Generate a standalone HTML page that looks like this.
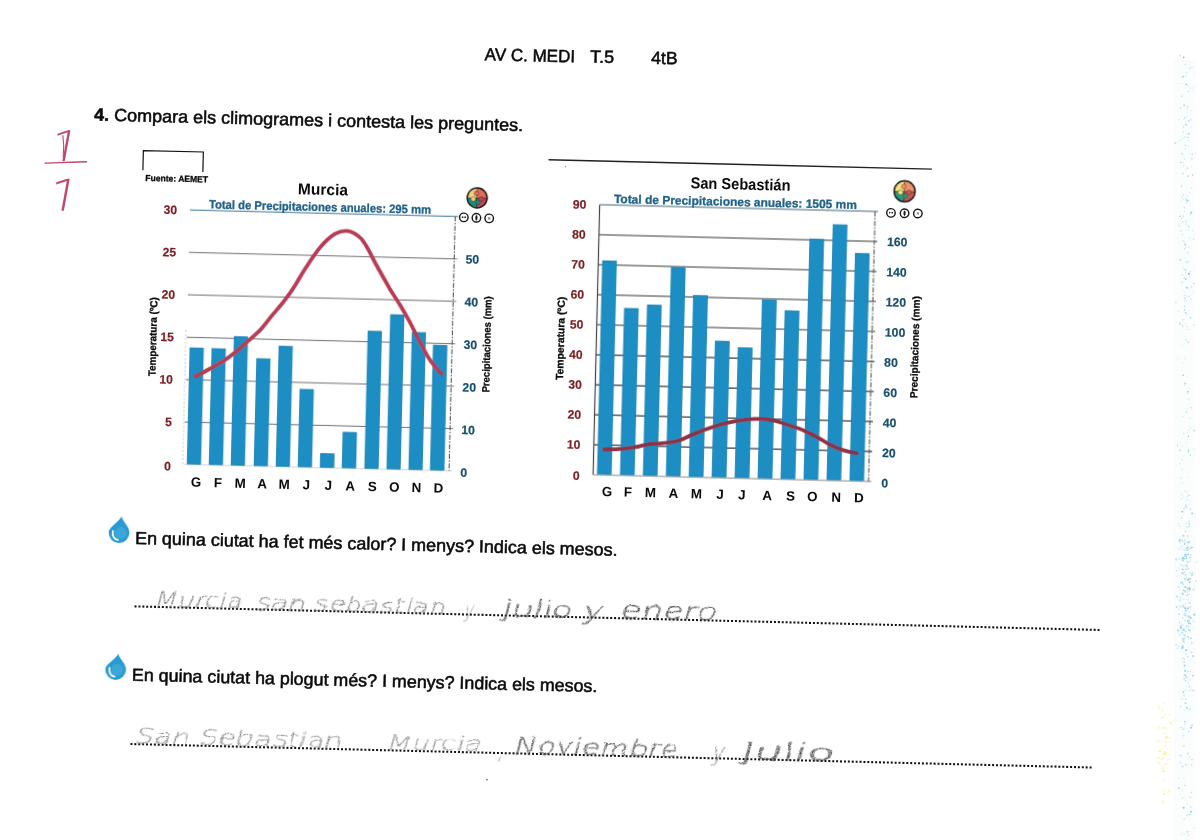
<!DOCTYPE html>
<html lang="ca">
<head>
<meta charset="utf-8">
<title>AV C. MEDI T.5</title>
<style>
html,body{margin:0;padding:0;background:#fff;}
#sheet{position:relative;width:1200px;height:840px;overflow:hidden;background:#fff;}
svg{display:block;}
text{font-family:"Liberation Sans",sans-serif;}
.b{font-weight:bold;}
.tx{fill:#0a0a0a;}
.ax{stroke:#0a0a0a;stroke-width:0.3px;}
.rg{stroke:#0a0a0a;stroke-width:0.55px;stroke-linejoin:round;}
.red{fill:#7d1f22;font-weight:bold;stroke:#7d1f22;stroke-width:0.2px;}
.blu{fill:#17506f;font-weight:bold;stroke:#17506f;stroke-width:0.2px;}
.gr{font-family:"DejaVu Sans Light","DejaVu Sans","Liberation Sans",sans-serif;font-weight:200;fill:#c2456a;}
.hw{font-family:"DejaVu Sans Light","DejaVu Sans","Liberation Sans",sans-serif;font-weight:200;fill:#8a8a8a;}
</style>
</head>
<body>
<div id="sheet">
<svg width="1200" height="840" viewBox="0 0 1200 840">
<defs>
<filter id="soft" x="-5%" y="-5%" width="110%" height="110%"><feGaussianBlur stdDeviation="0.45"/></filter>
<filter id="pencil" x="-5%" y="-60%" width="110%" height="220%">
<feTurbulence type="fractalNoise" baseFrequency="0.07" numOctaves="2" seed="3" result="n"/>
<feDisplacementMap in="SourceGraphic" in2="n" scale="4.5" xChannelSelector="R" yChannelSelector="G" result="d"/>
<feTurbulence type="fractalNoise" baseFrequency="0.85" numOctaves="1" seed="8" result="g"/>
<feColorMatrix in="g" type="matrix" values="0 0 0 0 0  0 0 0 0 0  0 0 0 0 0  0 0 0 2.4 -0.5" result="ga"/>
<feComposite in="d" in2="ga" operator="in"/>
</filter>
</defs>
<g transform="rotate(1.4)">
<text x="485.9" y="48.4" font-size="17.6" class="tx rg" textLength="90.4" lengthAdjust="spacingAndGlyphs">AV C. MEDI</text>
<text x="591.3" y="48.1" font-size="17.6" class="tx rg" textLength="24.0" lengthAdjust="spacingAndGlyphs">T.5</text>
<text x="652.3" y="47.8" font-size="17.6" class="tx rg" textLength="26.5" lengthAdjust="spacingAndGlyphs">4tB</text>
<text x="96.9" y="118.2" font-size="17.6" class="tx rg" textLength="429.1" lengthAdjust="spacingAndGlyphs"><tspan class="b">4.</tspan> Compara els climogrames i contesta les preguntes.</text>
<g class="grade">
<clipPath id="nobase1"><rect x="40" y="120" width="60" height="39.5"/></clipPath>
<clipPath id="nobase2"><rect x="40" y="168" width="60" height="41"/></clipPath>
<g clip-path="url(#nobase1)"><text transform="translate(51,162) skewX(-9) scale(1.05,1)" font-size="46" class="gr">1</text></g>
<g clip-path="url(#nobase2)"><text transform="translate(50.5,212) skewX(-9) scale(1.05,1)" font-size="48" class="gr">1</text></g>
<path d="M49 162 C62 161.4 78 160.2 90.5 159.6" fill="none" stroke="#c2456a" stroke-width="1.3" stroke-linecap="round"/>
<path d="M66.2 134 C67.4 141 67.6 148 67 155" fill="none" stroke="#c2456a" stroke-width="1.1" stroke-linecap="round"/>
</g>
<path d="M147 166.8 V147 H207 V167" fill="none" stroke="#111" stroke-width="1.2"/>
<text x="149.7" y="177.3" font-size="8.8" class="tx b ax" textLength="62.7" lengthAdjust="spacingAndGlyphs">Fuente: AEMET</text>
<g id="murcia" filter="url(#soft)">
<line x1="195" y1="459.8" x2="463.4" y2="459.8" stroke="#d4d4d4" stroke-width="1"/>
<line x1="195" y1="417.4" x2="463.4" y2="417.4" stroke="#707070" stroke-width="1.0"/>
<line x1="195" y1="375.0" x2="463.4" y2="375.0" stroke="#707070" stroke-width="1.0"/>
<line x1="195" y1="332.6" x2="463.4" y2="332.6" stroke="#707070" stroke-width="1.0"/>
<line x1="195" y1="290.1" x2="463.4" y2="290.1" stroke="#707070" stroke-width="1.0"/>
<line x1="195" y1="247.7" x2="463.4" y2="247.7" stroke="#707070" stroke-width="1.0"/>
<line x1="195" y1="205.3" x2="463.4" y2="205.3" stroke="#3b7596" stroke-width="1.1"/>
<line x1="194" y1="325.3" x2="194" y2="459.8" stroke="#bbb" stroke-width="0.8" stroke-dasharray="2 2"/>
<line x1="460.4" y1="205.3" x2="460.4" y2="459.8" stroke="#555" stroke-width="1.1" stroke-dasharray="5 1.5 1.5 1.5"/>
<rect x="198.5" y="343.1" width="13.4" height="116.1" fill="#1d8ec4" stroke="#1480b3" stroke-width="0.8"/>
<rect x="220.5" y="343.3" width="13.4" height="115.9" fill="#1d8ec4" stroke="#1480b3" stroke-width="0.8"/>
<rect x="242.4" y="330.8" width="13.4" height="128.4" fill="#1d8ec4" stroke="#1480b3" stroke-width="0.8"/>
<rect x="265.4" y="352.2" width="13.4" height="107.0" fill="#1d8ec4" stroke="#1480b3" stroke-width="0.8"/>
<rect x="287.4" y="339.2" width="13.4" height="120.0" fill="#1d8ec4" stroke="#1480b3" stroke-width="0.8"/>
<rect x="309.5" y="381.9" width="13.4" height="77.3" fill="#1d8ec4" stroke="#1480b3" stroke-width="0.8"/>
<rect x="331.7" y="445.6" width="13.4" height="13.6" fill="#1d8ec4" stroke="#1480b3" stroke-width="0.8"/>
<rect x="353.6" y="423.8" width="13.4" height="35.4" fill="#1d8ec4" stroke="#1480b3" stroke-width="0.8"/>
<rect x="376.1" y="322.0" width="13.4" height="137.2" fill="#1d8ec4" stroke="#1480b3" stroke-width="0.8"/>
<rect x="398.2" y="305.0" width="13.4" height="154.2" fill="#1d8ec4" stroke="#1480b3" stroke-width="0.8"/>
<rect x="420.2" y="322.2" width="13.4" height="137.0" fill="#1d8ec4" stroke="#1480b3" stroke-width="0.8"/>
<rect x="441.8" y="334.6" width="13.4" height="124.6" fill="#1d8ec4" stroke="#1480b3" stroke-width="0.8"/>
<path d="M204.6 371.6 C207.0 370.3 214.1 366.4 218.9 363.5 C223.8 360.6 229.6 357.2 233.7 354.4 C237.8 351.6 240.3 349.4 243.5 346.7 C246.8 343.9 250.1 340.7 253.3 337.7 C256.6 334.7 260.3 331.4 263.1 328.7 C266.0 325.9 267.6 324.4 270.4 321.0 C273.3 317.6 276.5 312.9 280.1 308.2 C283.8 303.6 288.6 298.0 292.2 292.9 C295.9 287.9 298.7 283.5 301.9 278.2 C305.1 273.0 307.5 267.9 311.5 261.5 C315.5 255.0 321.1 245.6 326.0 239.6 C330.8 233.7 336.1 228.6 340.6 225.7 C345.1 222.9 348.9 222.0 353.0 222.4 C357.2 222.9 362.2 225.7 365.7 228.6 C369.2 231.5 371.4 235.8 374.0 239.9 C376.6 244.0 377.5 246.7 381.3 253.3 C385.1 259.8 392.6 272.4 396.9 279.4 C401.3 286.4 403.9 289.6 407.3 295.1 C410.8 300.6 414.3 306.3 417.8 312.4 C421.2 318.5 424.7 325.5 428.2 331.6 C431.7 337.8 435.0 344.2 438.7 349.4 C442.3 354.5 448.1 360.4 450.0 362.6" fill="none" stroke="#b63c52" stroke-width="3.8" stroke-linecap="round" stroke-linejoin="round"/>
</g>
<text x="182.2" y="466.2" font-size="12.2" class="red" text-anchor="end">0</text>
<text x="182.2" y="421.8" font-size="12.2" class="red" text-anchor="end">5</text>
<text x="182.2" y="379.4" font-size="12.2" class="red" text-anchor="end">10</text>
<text x="182.2" y="336.9" font-size="12.2" class="red" text-anchor="end">15</text>
<text x="182.2" y="294.5" font-size="12.2" class="red" text-anchor="end">20</text>
<text x="182.2" y="252.1" font-size="12.2" class="red" text-anchor="end">25</text>
<text x="182.2" y="209.7" font-size="12.2" class="red" text-anchor="end">30</text>
<text x="471.8" y="465.3" font-size="12.2" class="blu">0</text>
<text x="471.8" y="422.6" font-size="12.2" class="blu">10</text>
<text x="471.8" y="380.0" font-size="12.2" class="blu">20</text>
<text x="471.8" y="337.3" font-size="12.2" class="blu">30</text>
<text x="471.8" y="294.6" font-size="12.2" class="blu">40</text>
<text x="471.8" y="252.0" font-size="12.2" class="blu">50</text>
<text x="302.5" y="186.9" font-size="15.8" class="tx b" textLength="50.0" lengthAdjust="spacingAndGlyphs">Murcia</text>
<text x="214.0" y="203.2" font-size="12.0" class="blu" textLength="222.0" lengthAdjust="spacingAndGlyphs" style="fill:#1f628a;stroke:#1f628a;stroke-width:0.3px">Total de Precipitaciones anuales: 295 mm</text>
<text x="207.8" y="481.8" font-size="13.4" class="tx b" text-anchor="middle">G</text>
<text x="229.8" y="481.8" font-size="13.4" class="tx b" text-anchor="middle">F</text>
<text x="251.9" y="481.8" font-size="13.4" class="tx b" text-anchor="middle">M</text>
<text x="273.9" y="481.8" font-size="13.4" class="tx b" text-anchor="middle">A</text>
<text x="296.0" y="481.8" font-size="13.4" class="tx b" text-anchor="middle">M</text>
<text x="318.0" y="481.8" font-size="13.4" class="tx b" text-anchor="middle">J</text>
<text x="340.0" y="481.8" font-size="13.4" class="tx b" text-anchor="middle">J</text>
<text x="362.1" y="481.8" font-size="13.4" class="tx b" text-anchor="middle">A</text>
<text x="384.1" y="481.8" font-size="13.4" class="tx b" text-anchor="middle">S</text>
<text x="406.2" y="481.8" font-size="13.4" class="tx b" text-anchor="middle">O</text>
<text x="428.2" y="481.8" font-size="13.4" class="tx b" text-anchor="middle">N</text>
<text x="450.2" y="481.8" font-size="13.4" class="tx b" text-anchor="middle">D</text>
<text transform="translate(164.6,372.4) rotate(-90)" font-size="10.4" class="tx b ax" textLength="79.0" lengthAdjust="spacingAndGlyphs">Temperatura (ºC)</text>
<text transform="translate(498.6,380.4) rotate(-90)" font-size="10.4" class="tx b ax" textLength="96.2" lengthAdjust="spacingAndGlyphs">Precipitaciones (mm)</text>
<g transform="translate(481.9,186.2)" filter="url(#soft)">
<circle r="10.7" fill="#161616"/>
<path d="M0 0 L-9.2 0 A9.2 9.2 0 0 1 0 -9.2 Z" fill="#f1d27c"/>
<path d="M0 0 L0 -9.2 A9.2 9.2 0 0 1 9.2 0 Z" fill="#de6c56"/>
<path d="M0 0 L9.2 0 A9.2 9.2 0 0 1 0 9.2 Z" fill="#bd4656"/>
<path d="M0 0 L0 9.2 A9.2 9.2 0 0 1 -9.2 0 Z" fill="#1f8b7c"/>
<path d="M-9.20 0.3 H9.20 M-0.4 -9.20 V9.20" stroke="#2b2420" stroke-width="0.7" fill="none"/>
<circle cx="-3.86" cy="1.10" r="2.30" fill="#f1d27c" stroke="#2b2420" stroke-width="0.4"/>
<circle cx="4.14" cy="0.92" r="2.30" fill="#bd4656" stroke="#2b2420" stroke-width="0.4"/>
<circle cx="0.92" cy="4.42" r="2.30" fill="#1f8b7c" stroke="#2b2420" stroke-width="0.4"/>
<circle cx="-0.92" cy="-4.60" r="2.30" fill="#de6c56" stroke="#2b2420" stroke-width="0.4"/>
</g>
<circle cx="469.0" cy="206.0" r="4.25" fill="#fff" stroke="#161616" stroke-width="1.4"/>
<circle cx="467.8" cy="205.8" r="0.9" fill="#333"/><circle cx="470.3" cy="205.8" r="0.9" fill="#333"/>
<circle cx="481.6" cy="206.1" r="4.25" fill="#fff" stroke="#161616" stroke-width="1.4"/>
<ellipse cx="481.6" cy="206.1" rx="1.1" ry="2.7" fill="#1c1c1c"/>
<circle cx="494.4" cy="206.4" r="4.25" fill="#fff" stroke="#161616" stroke-width="1.4"/>
<rect x="493.29999999999995" y="205.3" width="2.2" height="2.2" fill="#8a8a8a"/>
<line x1="552.3" y1="146.3" x2="935.7" y2="146.3" stroke="#222" stroke-width="1.4"/>
<g id="sansebastian" filter="url(#soft)">
<line x1="604.5" y1="460.1" x2="883.0" y2="460.1" stroke="#8c8c8c" stroke-width="1"/>
<line x1="604.5" y1="430.1" x2="883.0" y2="430.1" stroke="#383838" stroke-width="1.1"/>
<line x1="604.5" y1="400.1" x2="883.0" y2="400.1" stroke="#383838" stroke-width="1.1"/>
<line x1="604.5" y1="370.1" x2="883.0" y2="370.1" stroke="#383838" stroke-width="1.1"/>
<line x1="604.5" y1="340.1" x2="883.0" y2="340.1" stroke="#383838" stroke-width="1.1"/>
<line x1="604.5" y1="310.0" x2="883.0" y2="310.0" stroke="#383838" stroke-width="1.1"/>
<line x1="604.5" y1="280.0" x2="883.0" y2="280.0" stroke="#383838" stroke-width="1.1"/>
<line x1="604.5" y1="250.0" x2="883.0" y2="250.0" stroke="#383838" stroke-width="1.1"/>
<line x1="604.5" y1="220.0" x2="883.0" y2="220.0" stroke="#383838" stroke-width="1.1"/>
<line x1="604.5" y1="190.0" x2="883.0" y2="190.0" stroke="#466878" stroke-width="1.1"/>
<line x1="604.5" y1="190.0" x2="604.5" y2="460.1" stroke="#444" stroke-width="1.2"/>
<line x1="880.0" y1="190.0" x2="880.0" y2="460.1" stroke="#555" stroke-width="1.1" stroke-dasharray="5 1.5 1.5 1.5"/>
<rect x="608.9" y="246.0" width="13.8" height="213.2" fill="#1d8ec4" stroke="#1480b3" stroke-width="0.8"/>
<rect x="631.9" y="293.0" width="13.8" height="166.2" fill="#1d8ec4" stroke="#1480b3" stroke-width="0.8"/>
<rect x="654.8" y="289.0" width="13.8" height="170.2" fill="#1d8ec4" stroke="#1480b3" stroke-width="0.8"/>
<rect x="677.8" y="250.9" width="13.8" height="208.3" fill="#1d8ec4" stroke="#1480b3" stroke-width="0.8"/>
<rect x="700.7" y="278.3" width="13.8" height="180.9" fill="#1d8ec4" stroke="#1480b3" stroke-width="0.8"/>
<rect x="723.6" y="323.6" width="13.8" height="135.6" fill="#1d8ec4" stroke="#1480b3" stroke-width="0.8"/>
<rect x="746.6" y="329.6" width="13.8" height="129.6" fill="#1d8ec4" stroke="#1480b3" stroke-width="0.8"/>
<rect x="769.5" y="281.1" width="13.8" height="178.1" fill="#1d8ec4" stroke="#1480b3" stroke-width="0.8"/>
<rect x="792.5" y="291.4" width="13.8" height="167.8" fill="#1d8ec4" stroke="#1480b3" stroke-width="0.8"/>
<rect x="815.4" y="219.1" width="13.8" height="240.1" fill="#1d8ec4" stroke="#1480b3" stroke-width="0.8"/>
<rect x="838.4" y="204.2" width="13.8" height="255.0" fill="#1d8ec4" stroke="#1480b3" stroke-width="0.8"/>
<rect x="861.3" y="232.3" width="13.8" height="226.9" fill="#1d8ec4" stroke="#1480b3" stroke-width="0.8"/>
<path d="M615.1 434.5 C622 434.6 630 434 636.5 433.1 C641 432.4 644 431.8 648.2 431.1 C652 430 656 428.8 660 428.2 C665 427.6 670 427.4 674.9 426.7 C680 426 685 425.4 689.9 423.7 C695 421.5 700 418.8 704.7 416.8 C710 414.3 716 412 721.6 410 C727 408 733 406 738.7 404.7 C744 403.3 750 402 755.7 401.3 C762 400.6 767 400 772.8 400.1 C777 400.3 782 401 785.8 401.9 C790 403 795 404.5 799.5 406 C805 407.7 810 409 814.6 410.9 C819 412.8 823 414.8 827.5 417 C832 419.4 836 422 840.6 424.2 C845 426.3 849 428 853.6 429.3 C858 430.5 863 431.4 867.6 432.1" fill="none" stroke="#8f3344" stroke-width="3.8" stroke-linecap="round" stroke-linejoin="round"/>
</g>
<text x="591.2" y="465.5" font-size="12.2" class="red" text-anchor="end">0</text>
<text x="591.2" y="434.5" font-size="12.2" class="red" text-anchor="end">10</text>
<text x="591.2" y="404.5" font-size="12.2" class="red" text-anchor="end">20</text>
<text x="591.2" y="374.5" font-size="12.2" class="red" text-anchor="end">30</text>
<text x="591.2" y="344.5" font-size="12.2" class="red" text-anchor="end">40</text>
<text x="591.2" y="314.4" font-size="12.2" class="red" text-anchor="end">50</text>
<text x="591.2" y="284.4" font-size="12.2" class="red" text-anchor="end">60</text>
<text x="591.2" y="254.4" font-size="12.2" class="red" text-anchor="end">70</text>
<text x="591.2" y="224.4" font-size="12.2" class="red" text-anchor="end">80</text>
<text x="591.2" y="194.4" font-size="12.2" class="red" text-anchor="end">90</text>
<text x="892.8" y="465.6" font-size="12.2" class="blu">0</text>
<text x="892.8" y="435.4" font-size="12.2" class="blu">20</text>
<text x="892.8" y="405.2" font-size="12.2" class="blu">40</text>
<text x="892.8" y="375.1" font-size="12.2" class="blu">60</text>
<text x="892.8" y="344.9" font-size="12.2" class="blu">80</text>
<text x="892.8" y="314.7" font-size="12.2" class="blu">100</text>
<text x="892.8" y="284.5" font-size="12.2" class="blu">120</text>
<text x="892.8" y="254.4" font-size="12.2" class="blu">140</text>
<text x="892.8" y="224.2" font-size="12.2" class="blu">160</text>
<text x="694.8" y="171.4" font-size="15.8" class="tx b" textLength="100.0" lengthAdjust="spacingAndGlyphs">San Sebastián</text>
<text x="618.7" y="187.9" font-size="12.0" class="blu" textLength="243.0" lengthAdjust="spacingAndGlyphs" style="fill:#1f628a;stroke:#1f628a;stroke-width:0.3px">Total de Precipitaciones anuales: 1505 mm</text>
<text x="619.0" y="481.2" font-size="13.4" class="tx b" text-anchor="middle">G</text>
<text x="639.9" y="481.2" font-size="13.4" class="tx b" text-anchor="middle">F</text>
<text x="662.4" y="481.2" font-size="13.4" class="tx b" text-anchor="middle">M</text>
<text x="685.3" y="481.2" font-size="13.4" class="tx b" text-anchor="middle">A</text>
<text x="708.4" y="481.2" font-size="13.4" class="tx b" text-anchor="middle">M</text>
<text x="732.0" y="481.2" font-size="13.4" class="tx b" text-anchor="middle">J</text>
<text x="753.6" y="481.2" font-size="13.4" class="tx b" text-anchor="middle">J</text>
<text x="779.0" y="481.2" font-size="13.4" class="tx b" text-anchor="middle">A</text>
<text x="802.4" y="481.2" font-size="13.4" class="tx b" text-anchor="middle">S</text>
<text x="824.2" y="481.2" font-size="13.4" class="tx b" text-anchor="middle">O</text>
<text x="848.0" y="481.2" font-size="13.4" class="tx b" text-anchor="middle">N</text>
<text x="870.9" y="481.2" font-size="13.4" class="tx b" text-anchor="middle">D</text>
<text transform="translate(572.2,366.2) rotate(-90)" font-size="10.4" class="tx b ax" textLength="83.2" lengthAdjust="spacingAndGlyphs">Temperatura (ºC)</text>
<text transform="translate(926.7,375.6) rotate(-90)" font-size="10.4" class="tx b ax" textLength="101.9" lengthAdjust="spacingAndGlyphs">Precipitaciones (mm)</text>
<g transform="translate(909.0,169.2)" filter="url(#soft)">
<circle r="11.2" fill="#161616"/>
<path d="M0 0 L-9.7 0 A9.7 9.7 0 0 1 0 -9.7 Z" fill="#f6e27c"/>
<path d="M0 0 L0 -9.7 A9.7 9.7 0 0 1 9.7 0 Z" fill="#ee936a"/>
<path d="M0 0 L9.7 0 A9.7 9.7 0 0 1 0 9.7 Z" fill="#cc5852"/>
<path d="M0 0 L0 9.7 A9.7 9.7 0 0 1 -9.7 0 Z" fill="#2a9a78"/>
<path d="M-9.70 0.3 H9.70 M-0.4 -9.70 V9.70" stroke="#2b2420" stroke-width="0.7" fill="none"/>
<circle cx="-4.07" cy="1.16" r="2.42" fill="#f6e27c" stroke="#2b2420" stroke-width="0.4"/>
<circle cx="4.37" cy="0.97" r="2.42" fill="#cc5852" stroke="#2b2420" stroke-width="0.4"/>
<circle cx="0.97" cy="4.66" r="2.42" fill="#2a9a78" stroke="#2b2420" stroke-width="0.4"/>
<circle cx="-0.97" cy="-4.85" r="2.42" fill="#ee936a" stroke="#2b2420" stroke-width="0.4"/>
</g>
<circle cx="895.9" cy="191.0" r="4.25" fill="#fff" stroke="#161616" stroke-width="1.4"/>
<circle cx="894.6999999999999" cy="190.8" r="0.9" fill="#333"/><circle cx="897.1999999999999" cy="190.8" r="0.9" fill="#333"/>
<circle cx="909.5" cy="191.1" r="4.25" fill="#fff" stroke="#161616" stroke-width="1.4"/>
<ellipse cx="909.5" cy="191.1" rx="1.1" ry="2.7" fill="#1c1c1c"/>
<circle cx="922.8" cy="191.0" r="4.25" fill="#fff" stroke="#161616" stroke-width="1.4"/>
<rect x="921.6999999999999" y="189.9" width="2.2" height="2.2" fill="#8a8a8a"/>
<g filter="url(#soft)"><path d="M134.2 513.0 C135.0 518.0 142.4 523.1 142.4 529.6 A10.4 10.4 0 1 1 121.6 529.6 C121.6 524.1 132.0 519.0 134.2 513.0 Z" fill="#2c9bd1"/>
<circle cx="133.5" cy="530.1" r="6" fill="#45abdc" opacity="0.7"/>
<path d="M125.8 528.1 C125.0 533.1 127.5 536.4 131.0 536.8" fill="none" stroke="#f2fafd" stroke-width="1.7" stroke-linecap="round"/></g>
<text x="148.2" y="540.5" font-size="17.6" class="tx rg" textLength="482.6" lengthAdjust="spacingAndGlyphs">En quina ciutat ha fet més calor? I menys? Indica els mesos.</text>
<line x1="149.3" y1="602.9" x2="1115.4" y2="602.9" stroke="#111" stroke-width="2.05" stroke-dasharray="2.0 1.9"/>
<g filter="url(#soft)"><path d="M134.2 650.4 C135.0 655.4 142.4 660.0 142.4 666.5 A10.4 10.4 0 1 1 121.6 666.5 C121.6 661.0 132.0 656.4 134.2 650.4 Z" fill="#2c9bd1"/>
<circle cx="133.5" cy="667.0" r="6" fill="#45abdc" opacity="0.7"/>
<path d="M125.8 665.0 C125.0 670.0 127.5 673.3 131.0 673.7" fill="none" stroke="#f2fafd" stroke-width="1.7" stroke-linecap="round"/></g>
<text x="148.4" y="677.3" font-size="17.6" class="tx rg" textLength="465.6" lengthAdjust="spacingAndGlyphs">En quina ciutat ha plogut més? I menys? Indica els mesos.</text>
<line x1="148.6" y1="740.6" x2="1111.5" y2="740.6" stroke="#111" stroke-width="2.05" stroke-dasharray="2.0 1.9"/>
<text transform="translate(168.0,602.5) skewX(-14)" font-size="20.1" class="hw" filter="url(#pencil)" style="fill:#7c7c7c;stroke:#7c7c7c;stroke-width:0.25px" textLength="88.0" lengthAdjust="spacingAndGlyphs">Murcia</text>
<text transform="translate(270.0,603.0) skewX(-14)" font-size="21.3" class="hw" filter="url(#pencil)" style="fill:#787878;stroke:#787878;stroke-width:0.25px" textLength="190.0" lengthAdjust="spacingAndGlyphs">san sebastian</text>
<text transform="translate(478.0,606.0) skewX(-14)" font-size="20.7" class="hw" filter="url(#pencil)" style="fill:#999;stroke:#999;stroke-width:0.25px" textLength="9.0" lengthAdjust="spacingAndGlyphs">y</text>
<text transform="translate(516.0,604.0) skewX(-14)" font-size="22.0" class="hw" filter="url(#pencil)" style="fill:#555;stroke:#555;stroke-width:0.55px" textLength="100.0" lengthAdjust="spacingAndGlyphs">julio y</text>
<text transform="translate(634.0,603.0) skewX(-14)" font-size="24.4" class="hw" filter="url(#pencil)" style="fill:#3c3c3c;stroke:#3c3c3c;stroke-width:0.55px" textLength="96.0" lengthAdjust="spacingAndGlyphs">enero</text>
<text transform="translate(152.0,739.5) skewX(-14)" font-size="21.3" class="hw" filter="url(#pencil)" style="fill:#808080;stroke:#808080;stroke-width:0.25px" textLength="208.0" lengthAdjust="spacingAndGlyphs">San Sebastian</text>
<text transform="translate(404.0,739.0) skewX(-14)" font-size="19.5" class="hw" filter="url(#pencil)" style="fill:#8c8c8c;stroke:#8c8c8c;stroke-width:0.25px" textLength="94.0" lengthAdjust="spacingAndGlyphs">Murcia</text>
<text transform="translate(516.0,745.0) skewX(-14)" font-size="29.3" class="hw" filter="url(#pencil)" style="fill:#444;stroke:#444;stroke-width:0.25px" textLength="5.0" lengthAdjust="spacingAndGlyphs">,</text>
<text transform="translate(531.0,740.5) skewX(-14)" font-size="22.0" class="hw" filter="url(#pencil)" style="fill:#585858;stroke:#585858;stroke-width:0.55px" textLength="164.0" lengthAdjust="spacingAndGlyphs">Noviembre</text>
<text transform="translate(729.0,743.0) skewX(-14)" font-size="24.4" class="hw" filter="url(#pencil)" style="fill:#808080;stroke:#808080;stroke-width:0.25px" textLength="12.0" lengthAdjust="spacingAndGlyphs">y</text>
<text transform="translate(758.0,741.0) skewX(-14)" font-size="23.2" class="hw" filter="url(#pencil)" style="fill:#484848;stroke:#484848;stroke-width:0.55px" textLength="92.0" lengthAdjust="spacingAndGlyphs">Julio</text>
<circle cx="505.9" cy="767.5" r="0.9" fill="#777"/><circle cx="569.6" cy="152.8" r="0.7" fill="#888"/>
</g>
<g id="scan-noise">
<circle cx="1185.1" cy="298.4" r="1.00" fill="#8fd0e0" opacity="0.65"/><circle cx="1184.7" cy="211.3" r="0.80" fill="#8fd0e0" opacity="0.5"/><circle cx="1187.0" cy="112.4" r="0.60" fill="#9ad6e4" opacity="0.35"/><circle cx="1184.1" cy="819.1" r="0.60" fill="#6fbfd4" opacity="0.8"/><circle cx="1183.2" cy="155.1" r="0.60" fill="#8fd0e0" opacity="0.5"/><circle cx="1193.2" cy="90.1" r="0.60" fill="#c4e8f0" opacity="0.8"/><circle cx="1189.5" cy="660.2" r="0.60" fill="#a9dcea" opacity="0.5"/><circle cx="1184.2" cy="105.3" r="0.80" fill="#6fbfd4" opacity="0.8"/>
<circle cx="1186.1" cy="134.2" r="0.80" fill="#c4e8f0" opacity="0.35"/><circle cx="1183.6" cy="807.7" r="1.00" fill="#4aa6bf" opacity="0.65"/><circle cx="1178.5" cy="311.4" r="0.50" fill="#8fd0e0" opacity="0.65"/><circle cx="1186.2" cy="556.4" r="0.85" fill="#58b0c8" opacity="0.7"/><circle cx="1192.7" cy="174.1" r="0.60" fill="#9ad6e4" opacity="0.5"/><circle cx="1188.6" cy="436.2" r="0.80" fill="#4aa6bf" opacity="0.65"/><circle cx="1182.6" cy="729.5" r="0.80" fill="#a9dcea" opacity="0.5"/><circle cx="1188.0" cy="106.2" r="0.60" fill="#8fd0e0" opacity="0.8"/>
<circle cx="1185.5" cy="703.2" r="1.00" fill="#6fbfd4" opacity="0.65"/><circle cx="1188.3" cy="579.6" r="1.15" fill="#58b0c8" opacity="0.85"/><circle cx="1185.0" cy="358.4" r="0.50" fill="#a9dcea" opacity="0.8"/><circle cx="1184.9" cy="169.5" r="0.50" fill="#8fd0e0" opacity="0.35"/><circle cx="1181.8" cy="96.1" r="0.70" fill="#4aa6bf" opacity="0.65"/><circle cx="1190.2" cy="418.4" r="0.80" fill="#c4e8f0" opacity="0.8"/><circle cx="1189.1" cy="426.1" r="0.70" fill="#c4e8f0" opacity="0.5"/><circle cx="1188.3" cy="452.0" r="1.00" fill="#6fbfd4" opacity="0.5"/>
<circle cx="1184.2" cy="590.7" r="0.65" fill="#a4d9e6" opacity="0.7"/><circle cx="1191.8" cy="764.8" r="0.60" fill="#4aa6bf" opacity="0.65"/><circle cx="1186.1" cy="547.9" r="0.75" fill="#58b0c8" opacity="0.55"/><circle cx="1183.2" cy="199.5" r="0.50" fill="#8fd0e0" opacity="0.65"/><circle cx="1183.0" cy="416.8" r="0.70" fill="#6fbfd4" opacity="0.35"/><circle cx="1183.6" cy="215.9" r="0.60" fill="#6fbfd4" opacity="0.5"/><circle cx="1189.2" cy="527.0" r="0.50" fill="#9ad6e4" opacity="0.35"/><circle cx="1183.9" cy="638.6" r="0.85" fill="#8ccfe0" opacity="0.85"/>
<circle cx="1187.0" cy="107.8" r="1.00" fill="#c4e8f0" opacity="0.5"/><circle cx="1186.0" cy="164.4" r="0.50" fill="#8fd0e0" opacity="0.35"/><circle cx="1186.0" cy="699.3" r="0.60" fill="#4aa6bf" opacity="0.65"/><circle cx="1189.5" cy="247.0" r="0.60" fill="#8fd0e0" opacity="0.65"/><circle cx="1190.0" cy="690.4" r="0.60" fill="#4aa6bf" opacity="0.5"/><circle cx="1178.4" cy="457.8" r="0.80" fill="#a9dcea" opacity="0.35"/><circle cx="1184.4" cy="659.3" r="0.65" fill="#a4d9e6" opacity="0.85"/><circle cx="1184.6" cy="665.8" r="1.00" fill="#8fd0e0" opacity="0.5"/>
<circle cx="1189.8" cy="192.7" r="0.50" fill="#8fd0e0" opacity="0.8"/><circle cx="1188.7" cy="523.7" r="0.70" fill="#c4e8f0" opacity="0.8"/><circle cx="1177.5" cy="445.2" r="0.70" fill="#4aa6bf" opacity="0.5"/><circle cx="1184.8" cy="710.3" r="0.50" fill="#c4e8f0" opacity="0.8"/><circle cx="1185.3" cy="381.8" r="0.60" fill="#9ad6e4" opacity="0.65"/><circle cx="1188.0" cy="812.1" r="0.50" fill="#c4e8f0" opacity="0.8"/><circle cx="1182.5" cy="833.3" r="0.50" fill="#9ad6e4" opacity="0.65"/><circle cx="1187.9" cy="391.5" r="0.70" fill="#4aa6bf" opacity="0.65"/>
<circle cx="1193.4" cy="448.8" r="0.50" fill="#8fd0e0" opacity="0.65"/><circle cx="1185.3" cy="579.4" r="1.15" fill="#b5e1ec" opacity="0.85"/><circle cx="1184.3" cy="598.9" r="0.65" fill="#a4d9e6" opacity="0.4"/><circle cx="1181.9" cy="546.3" r="0.75" fill="#8ccfe0" opacity="0.7"/><circle cx="1189.0" cy="310.6" r="0.60" fill="#8fd0e0" opacity="0.5"/><circle cx="1184.5" cy="249.0" r="0.70" fill="#9ad6e4" opacity="0.65"/><circle cx="1180.1" cy="463.8" r="0.70" fill="#6fbfd4" opacity="0.35"/><circle cx="1188.1" cy="833.6" r="0.50" fill="#9ad6e4" opacity="0.5"/>
<circle cx="1180.2" cy="450.4" r="0.80" fill="#9ad6e4" opacity="0.8"/><circle cx="1188.0" cy="814.3" r="0.60" fill="#a9dcea" opacity="0.65"/><circle cx="1193.9" cy="621.6" r="0.65" fill="#8ccfe0" opacity="0.7"/><circle cx="1185.1" cy="383.7" r="0.80" fill="#4aa6bf" opacity="0.65"/><circle cx="1186.0" cy="76.1" r="0.70" fill="#6fbfd4" opacity="0.65"/><circle cx="1186.4" cy="287.0" r="0.50" fill="#6fbfd4" opacity="0.8"/><circle cx="1184.2" cy="106.9" r="0.50" fill="#8fd0e0" opacity="0.65"/><circle cx="1183.4" cy="692.0" r="1.00" fill="#8fd0e0" opacity="0.8"/>
<circle cx="1179.1" cy="225.8" r="1.00" fill="#c4e8f0" opacity="0.65"/><circle cx="1184.7" cy="615.1" r="1.15" fill="#6fbfd4" opacity="0.4"/><circle cx="1186.1" cy="599.4" r="0.65" fill="#b5e1ec" opacity="0.55"/><circle cx="1180.6" cy="107.9" r="0.70" fill="#8fd0e0" opacity="0.8"/><circle cx="1185.7" cy="541.0" r="0.65" fill="#b5e1ec" opacity="0.4"/><circle cx="1186.0" cy="566.1" r="0.85" fill="#8ccfe0" opacity="0.7"/><circle cx="1184.1" cy="269.3" r="1.00" fill="#a9dcea" opacity="0.65"/><circle cx="1183.9" cy="282.9" r="0.50" fill="#c4e8f0" opacity="0.35"/>
<circle cx="1179.4" cy="119.4" r="0.70" fill="#c4e8f0" opacity="0.8"/><circle cx="1186.4" cy="412.1" r="1.00" fill="#a9dcea" opacity="0.65"/><circle cx="1188.5" cy="398.7" r="0.60" fill="#8fd0e0" opacity="0.35"/><circle cx="1195.8" cy="153.1" r="0.70" fill="#a9dcea" opacity="0.65"/><circle cx="1190.9" cy="427.9" r="0.80" fill="#c4e8f0" opacity="0.65"/><circle cx="1186.1" cy="620.3" r="0.65" fill="#a4d9e6" opacity="0.4"/><circle cx="1178.0" cy="299.0" r="0.60" fill="#9ad6e4" opacity="0.35"/><circle cx="1191.9" cy="759.5" r="0.70" fill="#8fd0e0" opacity="0.8"/>
<circle cx="1191.9" cy="643.0" r="0.75" fill="#6fbfd4" opacity="0.7"/><circle cx="1188.0" cy="657.0" r="0.65" fill="#58b0c8" opacity="0.55"/><circle cx="1179.3" cy="614.2" r="0.85" fill="#58b0c8" opacity="0.4"/><circle cx="1188.1" cy="176.3" r="0.70" fill="#6fbfd4" opacity="0.65"/><circle cx="1184.0" cy="629.7" r="1.15" fill="#58b0c8" opacity="0.4"/><circle cx="1183.0" cy="173.5" r="0.60" fill="#4aa6bf" opacity="0.8"/><circle cx="1182.5" cy="234.8" r="0.70" fill="#6fbfd4" opacity="0.5"/><circle cx="1184.7" cy="309.9" r="0.70" fill="#4aa6bf" opacity="0.65"/>
<circle cx="1180.3" cy="140.4" r="0.60" fill="#8fd0e0" opacity="0.65"/><circle cx="1179.9" cy="755.6" r="0.80" fill="#c4e8f0" opacity="0.65"/><circle cx="1183.8" cy="57.4" r="0.80" fill="#4aa6bf" opacity="0.8"/><circle cx="1177.4" cy="238.3" r="0.60" fill="#a9dcea" opacity="0.35"/><circle cx="1184.9" cy="556.6" r="0.75" fill="#6fbfd4" opacity="0.4"/><circle cx="1185.6" cy="555.1" r="0.85" fill="#b5e1ec" opacity="0.85"/><circle cx="1180.5" cy="597.5" r="0.95" fill="#a4d9e6" opacity="0.55"/><circle cx="1185.2" cy="670.8" r="1.00" fill="#6fbfd4" opacity="0.8"/>
<circle cx="1187.7" cy="262.3" r="1.00" fill="#a9dcea" opacity="0.5"/><circle cx="1183.4" cy="558.4" r="0.95" fill="#8ccfe0" opacity="0.7"/><circle cx="1182.6" cy="221.8" r="0.70" fill="#9ad6e4" opacity="0.8"/><circle cx="1189.6" cy="329.1" r="0.50" fill="#6fbfd4" opacity="0.35"/><circle cx="1186.2" cy="224.2" r="1.00" fill="#c4e8f0" opacity="0.5"/><circle cx="1182.5" cy="766.5" r="1.00" fill="#a9dcea" opacity="0.8"/><circle cx="1182.4" cy="83.4" r="0.50" fill="#a9dcea" opacity="0.8"/><circle cx="1183.5" cy="290.7" r="0.50" fill="#a9dcea" opacity="0.65"/>
<circle cx="1187.5" cy="393.1" r="0.80" fill="#8fd0e0" opacity="0.5"/><circle cx="1186.8" cy="196.2" r="0.80" fill="#a9dcea" opacity="0.65"/><circle cx="1194.7" cy="72.4" r="0.70" fill="#a9dcea" opacity="0.35"/><circle cx="1189.6" cy="757.0" r="0.70" fill="#6fbfd4" opacity="0.35"/><circle cx="1193.0" cy="292.6" r="0.50" fill="#8fd0e0" opacity="0.5"/><circle cx="1186.2" cy="690.2" r="0.80" fill="#a9dcea" opacity="0.35"/><circle cx="1186.3" cy="295.0" r="0.60" fill="#c4e8f0" opacity="0.5"/><circle cx="1184.3" cy="237.4" r="0.50" fill="#c4e8f0" opacity="0.65"/>
<circle cx="1187.3" cy="168.2" r="1.00" fill="#8fd0e0" opacity="0.5"/><circle cx="1187.0" cy="116.9" r="0.80" fill="#a9dcea" opacity="0.5"/><circle cx="1188.4" cy="146.1" r="1.00" fill="#9ad6e4" opacity="0.35"/><circle cx="1184.1" cy="662.2" r="0.70" fill="#4aa6bf" opacity="0.65"/><circle cx="1186.1" cy="199.0" r="1.00" fill="#a9dcea" opacity="0.65"/><circle cx="1188.4" cy="91.7" r="0.60" fill="#4aa6bf" opacity="0.5"/><circle cx="1186.4" cy="558.4" r="0.75" fill="#58b0c8" opacity="0.7"/><circle cx="1186.1" cy="72.2" r="0.50" fill="#8fd0e0" opacity="0.5"/>
<circle cx="1183.4" cy="194.9" r="1.00" fill="#6fbfd4" opacity="0.35"/><circle cx="1185.8" cy="124.4" r="1.00" fill="#6fbfd4" opacity="0.5"/><circle cx="1181.9" cy="693.4" r="0.50" fill="#a9dcea" opacity="0.35"/><circle cx="1190.2" cy="674.6" r="0.50" fill="#c4e8f0" opacity="0.35"/><circle cx="1183.6" cy="163.3" r="0.70" fill="#c4e8f0" opacity="0.65"/><circle cx="1182.5" cy="572.9" r="1.15" fill="#a4d9e6" opacity="0.85"/><circle cx="1188.2" cy="835.3" r="0.60" fill="#8fd0e0" opacity="0.8"/><circle cx="1192.4" cy="759.5" r="0.50" fill="#c4e8f0" opacity="0.65"/>
<circle cx="1191.3" cy="407.8" r="0.80" fill="#8fd0e0" opacity="0.65"/><circle cx="1186.5" cy="628.3" r="0.75" fill="#b5e1ec" opacity="0.55"/><circle cx="1178.4" cy="778.5" r="0.60" fill="#6fbfd4" opacity="0.5"/><circle cx="1186.5" cy="708.2" r="0.80" fill="#6fbfd4" opacity="0.35"/><circle cx="1189.6" cy="589.2" r="1.15" fill="#6fbfd4" opacity="0.85"/><circle cx="1181.4" cy="186.0" r="0.80" fill="#4aa6bf" opacity="0.5"/><circle cx="1186.1" cy="346.1" r="0.60" fill="#8fd0e0" opacity="0.35"/><circle cx="1192.7" cy="573.0" r="0.95" fill="#b5e1ec" opacity="0.7"/>
<circle cx="1182.9" cy="557.9" r="1.15" fill="#58b0c8" opacity="0.55"/><circle cx="1188.6" cy="430.6" r="1.00" fill="#c4e8f0" opacity="0.5"/><circle cx="1189.6" cy="686.8" r="0.70" fill="#8fd0e0" opacity="0.8"/><circle cx="1187.6" cy="72.4" r="0.70" fill="#9ad6e4" opacity="0.35"/><circle cx="1178.6" cy="83.3" r="0.60" fill="#8fd0e0" opacity="0.35"/><circle cx="1193.2" cy="690.4" r="0.80" fill="#6fbfd4" opacity="0.5"/><circle cx="1188.9" cy="587.5" r="0.85" fill="#6fbfd4" opacity="0.7"/><circle cx="1181.0" cy="755.4" r="0.80" fill="#a9dcea" opacity="0.65"/>
<circle cx="1182.3" cy="206.2" r="0.50" fill="#a9dcea" opacity="0.5"/><circle cx="1185.9" cy="262.0" r="0.80" fill="#a9dcea" opacity="0.65"/><circle cx="1183.4" cy="131.8" r="0.80" fill="#4aa6bf" opacity="0.35"/><circle cx="1183.0" cy="241.1" r="0.80" fill="#9ad6e4" opacity="0.65"/><circle cx="1185.9" cy="650.2" r="1.15" fill="#a4d9e6" opacity="0.7"/><circle cx="1184.7" cy="550.1" r="0.85" fill="#8ccfe0" opacity="0.4"/><circle cx="1182.9" cy="216.9" r="0.70" fill="#8fd0e0" opacity="0.5"/><circle cx="1182.9" cy="76.4" r="1.00" fill="#6fbfd4" opacity="0.65"/>
<circle cx="1186.9" cy="124.9" r="1.00" fill="#a9dcea" opacity="0.5"/><circle cx="1191.5" cy="166.6" r="0.60" fill="#9ad6e4" opacity="0.5"/><circle cx="1189.8" cy="399.8" r="0.70" fill="#c4e8f0" opacity="0.65"/><circle cx="1190.9" cy="811.8" r="1.00" fill="#6fbfd4" opacity="0.8"/><circle cx="1187.5" cy="433.3" r="0.50" fill="#c4e8f0" opacity="0.5"/><circle cx="1186.0" cy="229.7" r="0.50" fill="#8fd0e0" opacity="0.5"/><circle cx="1182.1" cy="153.5" r="0.80" fill="#4aa6bf" opacity="0.5"/><circle cx="1182.9" cy="445.8" r="0.50" fill="#9ad6e4" opacity="0.8"/>
<circle cx="1185.9" cy="610.9" r="0.95" fill="#6fbfd4" opacity="0.55"/><circle cx="1181.3" cy="835.3" r="0.50" fill="#8fd0e0" opacity="0.65"/><circle cx="1191.6" cy="792.4" r="0.80" fill="#9ad6e4" opacity="0.65"/><circle cx="1187.9" cy="753.6" r="1.00" fill="#8fd0e0" opacity="0.5"/><circle cx="1185.6" cy="247.8" r="0.70" fill="#a9dcea" opacity="0.8"/><circle cx="1175.9" cy="302.2" r="1.00" fill="#c4e8f0" opacity="0.8"/><circle cx="1185.1" cy="724.3" r="0.70" fill="#a9dcea" opacity="0.8"/><circle cx="1180.6" cy="536.9" r="0.60" fill="#a9dcea" opacity="0.35"/>
<circle cx="1189.5" cy="61.5" r="0.60" fill="#9ad6e4" opacity="0.35"/><circle cx="1184.3" cy="64.6" r="0.50" fill="#9ad6e4" opacity="0.35"/><circle cx="1180.9" cy="628.0" r="1.15" fill="#8ccfe0" opacity="0.85"/><circle cx="1191.9" cy="125.5" r="0.50" fill="#8fd0e0" opacity="0.35"/><circle cx="1182.8" cy="641.5" r="0.75" fill="#8ccfe0" opacity="0.55"/><circle cx="1182.5" cy="275.0" r="0.70" fill="#8fd0e0" opacity="0.65"/><circle cx="1185.1" cy="244.8" r="0.70" fill="#4aa6bf" opacity="0.8"/><circle cx="1182.1" cy="469.2" r="0.50" fill="#4aa6bf" opacity="0.65"/>
<circle cx="1188.1" cy="176.0" r="0.50" fill="#8fd0e0" opacity="0.65"/><circle cx="1192.8" cy="675.8" r="0.80" fill="#4aa6bf" opacity="0.65"/><circle cx="1190.0" cy="501.2" r="0.60" fill="#c4e8f0" opacity="0.5"/><circle cx="1176.9" cy="596.3" r="0.85" fill="#8ccfe0" opacity="0.85"/><circle cx="1183.5" cy="634.7" r="0.95" fill="#b5e1ec" opacity="0.55"/><circle cx="1188.6" cy="226.4" r="1.00" fill="#4aa6bf" opacity="0.35"/><circle cx="1190.5" cy="318.1" r="1.00" fill="#9ad6e4" opacity="0.65"/><circle cx="1192.7" cy="175.3" r="0.70" fill="#4aa6bf" opacity="0.5"/>
<circle cx="1188.3" cy="140.6" r="0.60" fill="#6fbfd4" opacity="0.65"/><circle cx="1184.0" cy="642.3" r="0.75" fill="#6fbfd4" opacity="0.7"/><circle cx="1184.5" cy="834.0" r="0.60" fill="#a9dcea" opacity="0.65"/><circle cx="1183.7" cy="625.2" r="0.65" fill="#a4d9e6" opacity="0.55"/><circle cx="1189.5" cy="388.3" r="0.50" fill="#a9dcea" opacity="0.65"/><circle cx="1185.6" cy="631.3" r="1.15" fill="#b5e1ec" opacity="0.85"/><circle cx="1183.4" cy="560.7" r="0.75" fill="#8ccfe0" opacity="0.85"/><circle cx="1184.5" cy="385.2" r="0.50" fill="#c4e8f0" opacity="0.5"/>
<circle cx="1180.4" cy="542.4" r="0.95" fill="#b5e1ec" opacity="0.55"/><circle cx="1187.6" cy="753.8" r="0.50" fill="#c4e8f0" opacity="0.8"/><circle cx="1186.0" cy="764.7" r="0.60" fill="#4aa6bf" opacity="0.65"/><circle cx="1188.9" cy="120.7" r="1.00" fill="#a9dcea" opacity="0.8"/><circle cx="1185.4" cy="323.7" r="0.50" fill="#8fd0e0" opacity="0.8"/><circle cx="1190.2" cy="578.6" r="0.85" fill="#58b0c8" opacity="0.55"/><circle cx="1187.4" cy="408.8" r="0.60" fill="#c4e8f0" opacity="0.5"/><circle cx="1185.3" cy="690.1" r="0.80" fill="#c4e8f0" opacity="0.65"/>
<circle cx="1178.8" cy="646.4" r="0.75" fill="#a4d9e6" opacity="0.85"/><circle cx="1187.4" cy="588.6" r="0.95" fill="#8ccfe0" opacity="0.7"/><circle cx="1184.7" cy="295.6" r="0.70" fill="#a9dcea" opacity="0.65"/><circle cx="1184.8" cy="721.8" r="1.00" fill="#6fbfd4" opacity="0.5"/><circle cx="1184.5" cy="207.4" r="1.00" fill="#a9dcea" opacity="0.5"/><circle cx="1191.5" cy="188.2" r="0.60" fill="#a9dcea" opacity="0.8"/><circle cx="1190.5" cy="671.8" r="0.50" fill="#9ad6e4" opacity="0.65"/><circle cx="1182.4" cy="482.9" r="0.60" fill="#a9dcea" opacity="0.8"/>
<circle cx="1183.7" cy="433.5" r="0.80" fill="#a9dcea" opacity="0.8"/><circle cx="1186.5" cy="171.4" r="0.50" fill="#a9dcea" opacity="0.65"/><circle cx="1176.7" cy="570.9" r="0.65" fill="#6fbfd4" opacity="0.7"/><circle cx="1191.2" cy="547.6" r="0.85" fill="#8ccfe0" opacity="0.85"/><circle cx="1180.9" cy="727.6" r="0.60" fill="#6fbfd4" opacity="0.8"/><circle cx="1186.8" cy="312.9" r="0.50" fill="#6fbfd4" opacity="0.65"/><circle cx="1179.9" cy="323.4" r="1.00" fill="#6fbfd4" opacity="0.5"/><circle cx="1196.5" cy="562.3" r="0.85" fill="#a4d9e6" opacity="0.55"/>
<circle cx="1184.5" cy="665.8" r="1.00" fill="#4aa6bf" opacity="0.35"/><circle cx="1177.4" cy="358.0" r="0.50" fill="#a9dcea" opacity="0.8"/><circle cx="1184.8" cy="540.2" r="0.95" fill="#6fbfd4" opacity="0.4"/><circle cx="1183.4" cy="569.6" r="0.65" fill="#8ccfe0" opacity="0.7"/><circle cx="1183.6" cy="735.8" r="0.70" fill="#a9dcea" opacity="0.8"/><circle cx="1192.2" cy="67.3" r="1.00" fill="#9ad6e4" opacity="0.35"/><circle cx="1183.6" cy="362.9" r="0.60" fill="#c4e8f0" opacity="0.8"/><circle cx="1180.9" cy="477.9" r="0.80" fill="#a9dcea" opacity="0.5"/>
<circle cx="1180.0" cy="540.3" r="0.65" fill="#6fbfd4" opacity="0.4"/><circle cx="1175.2" cy="142.9" r="1.00" fill="#a9dcea" opacity="0.8"/><circle cx="1187.0" cy="625.4" r="0.75" fill="#8ccfe0" opacity="0.7"/><circle cx="1179.4" cy="541.6" r="0.85" fill="#8ccfe0" opacity="0.4"/><circle cx="1183.5" cy="559.3" r="0.75" fill="#58b0c8" opacity="0.4"/><circle cx="1192.3" cy="620.8" r="0.65" fill="#a4d9e6" opacity="0.55"/><circle cx="1188.3" cy="542.5" r="1.15" fill="#a4d9e6" opacity="0.7"/><circle cx="1176.1" cy="559.5" r="1.15" fill="#8ccfe0" opacity="0.55"/>
<circle cx="1189.3" cy="684.4" r="0.80" fill="#a9dcea" opacity="0.35"/><circle cx="1186.0" cy="270.2" r="1.00" fill="#a9dcea" opacity="0.65"/><circle cx="1189.9" cy="616.3" r="0.75" fill="#a4d9e6" opacity="0.4"/><circle cx="1187.5" cy="671.7" r="0.50" fill="#4aa6bf" opacity="0.65"/><circle cx="1193.0" cy="656.2" r="1.15" fill="#a4d9e6" opacity="0.85"/><circle cx="1180.7" cy="443.9" r="0.60" fill="#a9dcea" opacity="0.35"/><circle cx="1181.9" cy="329.5" r="0.60" fill="#a9dcea" opacity="0.35"/><circle cx="1188.9" cy="731.4" r="0.80" fill="#8fd0e0" opacity="0.5"/>
<circle cx="1184.9" cy="292.0" r="0.50" fill="#8fd0e0" opacity="0.5"/><circle cx="1191.6" cy="652.3" r="0.85" fill="#8ccfe0" opacity="0.7"/><circle cx="1187.2" cy="200.4" r="1.00" fill="#6fbfd4" opacity="0.8"/><circle cx="1186.7" cy="550.6" r="0.65" fill="#a4d9e6" opacity="0.7"/><circle cx="1189.1" cy="831.4" r="0.70" fill="#8fd0e0" opacity="0.35"/><circle cx="1186.8" cy="708.1" r="1.00" fill="#9ad6e4" opacity="0.8"/><circle cx="1186.3" cy="84.5" r="0.70" fill="#4aa6bf" opacity="0.8"/><circle cx="1176.1" cy="644.8" r="0.85" fill="#58b0c8" opacity="0.4"/>
<circle cx="1186.8" cy="677.5" r="1.00" fill="#6fbfd4" opacity="0.5"/><circle cx="1184.5" cy="778.9" r="0.50" fill="#9ad6e4" opacity="0.35"/><circle cx="1184.4" cy="696.8" r="0.60" fill="#9ad6e4" opacity="0.35"/><circle cx="1184.3" cy="183.8" r="0.60" fill="#c4e8f0" opacity="0.5"/><circle cx="1187.9" cy="252.6" r="0.70" fill="#6fbfd4" opacity="0.5"/><circle cx="1188.8" cy="248.0" r="0.80" fill="#c4e8f0" opacity="0.35"/><circle cx="1181.0" cy="162.4" r="0.60" fill="#4aa6bf" opacity="0.8"/><circle cx="1180.6" cy="706.6" r="0.60" fill="#6fbfd4" opacity="0.8"/>
<circle cx="1183.8" cy="778.2" r="0.50" fill="#9ad6e4" opacity="0.65"/><circle cx="1194.7" cy="268.5" r="0.50" fill="#c4e8f0" opacity="0.5"/><circle cx="1188.8" cy="260.9" r="0.60" fill="#9ad6e4" opacity="0.5"/><circle cx="1181.8" cy="197.0" r="0.50" fill="#4aa6bf" opacity="0.8"/><circle cx="1183.1" cy="647.5" r="0.75" fill="#b5e1ec" opacity="0.7"/><circle cx="1180.8" cy="201.4" r="1.00" fill="#c4e8f0" opacity="0.35"/><circle cx="1180.0" cy="794.6" r="0.60" fill="#9ad6e4" opacity="0.65"/><circle cx="1189.8" cy="238.2" r="0.70" fill="#8fd0e0" opacity="0.5"/>
<circle cx="1180.0" cy="600.4" r="1.15" fill="#8ccfe0" opacity="0.4"/><circle cx="1193.7" cy="324.7" r="0.70" fill="#9ad6e4" opacity="0.8"/><circle cx="1185.5" cy="272.7" r="0.50" fill="#4aa6bf" opacity="0.5"/><circle cx="1181.5" cy="218.5" r="0.50" fill="#6fbfd4" opacity="0.65"/><circle cx="1182.9" cy="629.5" r="0.75" fill="#58b0c8" opacity="0.4"/><circle cx="1182.4" cy="319.9" r="0.60" fill="#8fd0e0" opacity="0.65"/><circle cx="1182.6" cy="138.2" r="0.50" fill="#8fd0e0" opacity="0.8"/><circle cx="1186.0" cy="221.5" r="1.00" fill="#c4e8f0" opacity="0.8"/>
<circle cx="1178.9" cy="788.2" r="1.00" fill="#8fd0e0" opacity="0.8"/><circle cx="1189.9" cy="814.5" r="0.70" fill="#6fbfd4" opacity="0.8"/><circle cx="1175.1" cy="231.8" r="0.70" fill="#c4e8f0" opacity="0.35"/><circle cx="1190.7" cy="299.3" r="0.70" fill="#a9dcea" opacity="0.8"/><circle cx="1187.4" cy="569.2" r="0.75" fill="#b5e1ec" opacity="0.4"/><circle cx="1189.4" cy="219.9" r="0.80" fill="#c4e8f0" opacity="0.35"/><circle cx="1183.9" cy="745.9" r="1.00" fill="#6fbfd4" opacity="0.35"/><circle cx="1183.4" cy="535.8" r="1.00" fill="#8fd0e0" opacity="0.8"/>
<circle cx="1188.9" cy="228.8" r="0.60" fill="#8fd0e0" opacity="0.35"/><circle cx="1188.5" cy="450.0" r="0.80" fill="#4aa6bf" opacity="0.5"/><circle cx="1185.4" cy="500.7" r="0.70" fill="#c4e8f0" opacity="0.5"/><circle cx="1179.1" cy="559.0" r="0.95" fill="#b5e1ec" opacity="0.7"/><circle cx="1186.9" cy="287.8" r="0.80" fill="#4aa6bf" opacity="0.8"/><circle cx="1191.0" cy="727.8" r="1.00" fill="#6fbfd4" opacity="0.8"/><circle cx="1191.3" cy="212.5" r="1.00" fill="#6fbfd4" opacity="0.8"/><circle cx="1186.7" cy="564.9" r="0.85" fill="#8ccfe0" opacity="0.55"/>
<circle cx="1184.9" cy="785.3" r="0.60" fill="#4aa6bf" opacity="0.65"/><circle cx="1184.0" cy="695.3" r="0.80" fill="#6fbfd4" opacity="0.5"/><circle cx="1181.5" cy="369.6" r="0.50" fill="#c4e8f0" opacity="0.8"/><circle cx="1188.8" cy="273.7" r="1.00" fill="#4aa6bf" opacity="0.8"/><circle cx="1190.1" cy="557.3" r="0.85" fill="#6fbfd4" opacity="0.7"/><circle cx="1185.7" cy="680.8" r="0.80" fill="#4aa6bf" opacity="0.5"/><circle cx="1186.5" cy="203.0" r="0.50" fill="#6fbfd4" opacity="0.8"/><circle cx="1185.7" cy="279.3" r="0.70" fill="#4aa6bf" opacity="0.8"/>
<circle cx="1182.8" cy="586.8" r="0.65" fill="#8ccfe0" opacity="0.55"/><circle cx="1183.8" cy="119.0" r="0.80" fill="#9ad6e4" opacity="0.5"/><circle cx="1187.0" cy="313.9" r="0.70" fill="#6fbfd4" opacity="0.35"/><circle cx="1183.6" cy="699.2" r="0.50" fill="#9ad6e4" opacity="0.65"/><circle cx="1189.3" cy="590.5" r="0.75" fill="#b5e1ec" opacity="0.7"/><circle cx="1183.2" cy="691.3" r="0.60" fill="#c4e8f0" opacity="0.5"/><circle cx="1190.3" cy="88.0" r="0.50" fill="#9ad6e4" opacity="0.8"/><circle cx="1189.4" cy="607.1" r="0.95" fill="#8ccfe0" opacity="0.4"/>
<circle cx="1182.9" cy="573.1" r="1.15" fill="#b5e1ec" opacity="0.55"/><circle cx="1184.9" cy="137.0" r="1.00" fill="#8fd0e0" opacity="0.35"/><circle cx="1178.3" cy="119.9" r="1.00" fill="#c4e8f0" opacity="0.35"/><circle cx="1184.9" cy="558.8" r="0.75" fill="#6fbfd4" opacity="0.7"/><circle cx="1180.3" cy="259.8" r="1.00" fill="#8fd0e0" opacity="0.65"/><circle cx="1180.0" cy="55.6" r="0.80" fill="#4aa6bf" opacity="0.35"/><circle cx="1193.5" cy="239.0" r="0.70" fill="#8fd0e0" opacity="0.8"/><circle cx="1182.5" cy="797.9" r="0.80" fill="#9ad6e4" opacity="0.5"/>
<circle cx="1188.2" cy="608.0" r="0.95" fill="#6fbfd4" opacity="0.4"/><circle cx="1187.3" cy="815.3" r="1.00" fill="#6fbfd4" opacity="0.35"/><circle cx="1190.6" cy="807.1" r="0.80" fill="#a9dcea" opacity="0.8"/><circle cx="1183.2" cy="266.3" r="0.50" fill="#6fbfd4" opacity="0.35"/><circle cx="1185.5" cy="312.5" r="0.70" fill="#4aa6bf" opacity="0.5"/><circle cx="1184.2" cy="674.4" r="0.70" fill="#6fbfd4" opacity="0.5"/><circle cx="1188.7" cy="616.5" r="1.15" fill="#6fbfd4" opacity="0.55"/><circle cx="1196.0" cy="580.9" r="0.95" fill="#8ccfe0" opacity="0.55"/>
<circle cx="1188.2" cy="288.0" r="0.60" fill="#6fbfd4" opacity="0.5"/><circle cx="1187.3" cy="568.9" r="0.85" fill="#b5e1ec" opacity="0.7"/><circle cx="1187.7" cy="110.2" r="0.70" fill="#c4e8f0" opacity="0.8"/><circle cx="1182.1" cy="658.4" r="0.75" fill="#a4d9e6" opacity="0.55"/><circle cx="1182.5" cy="569.6" r="0.75" fill="#58b0c8" opacity="0.7"/><circle cx="1180.5" cy="763.0" r="0.70" fill="#8fd0e0" opacity="0.65"/><circle cx="1187.5" cy="608.6" r="0.85" fill="#6fbfd4" opacity="0.85"/><circle cx="1188.4" cy="629.2" r="0.75" fill="#b5e1ec" opacity="0.55"/>
<circle cx="1184.4" cy="243.3" r="0.50" fill="#8fd0e0" opacity="0.65"/><circle cx="1182.4" cy="660.1" r="0.50" fill="#c4e8f0" opacity="0.8"/><circle cx="1180.0" cy="216.2" r="0.80" fill="#6fbfd4" opacity="0.8"/><circle cx="1194.3" cy="430.6" r="1.00" fill="#6fbfd4" opacity="0.5"/><circle cx="1189.7" cy="548.7" r="0.95" fill="#8ccfe0" opacity="0.55"/><circle cx="1187.4" cy="547.9" r="0.95" fill="#58b0c8" opacity="0.55"/><circle cx="1190.0" cy="603.1" r="0.85" fill="#6fbfd4" opacity="0.55"/><circle cx="1190.5" cy="508.9" r="0.50" fill="#4aa6bf" opacity="0.8"/>
<circle cx="1182.2" cy="646.9" r="0.95" fill="#6fbfd4" opacity="0.4"/><circle cx="1183.3" cy="590.7" r="0.65" fill="#8ccfe0" opacity="0.7"/><circle cx="1182.1" cy="282.5" r="0.60" fill="#6fbfd4" opacity="0.8"/><circle cx="1196.0" cy="174.1" r="0.50" fill="#c4e8f0" opacity="0.8"/><circle cx="1183.5" cy="126.8" r="1.00" fill="#6fbfd4" opacity="0.35"/><circle cx="1187.1" cy="326.7" r="0.70" fill="#9ad6e4" opacity="0.65"/><circle cx="1190.2" cy="561.2" r="0.75" fill="#a4d9e6" opacity="0.7"/><circle cx="1186.7" cy="300.7" r="0.70" fill="#6fbfd4" opacity="0.5"/>
<circle cx="1180.6" cy="231.0" r="0.80" fill="#8fd0e0" opacity="0.5"/><circle cx="1183.6" cy="165.7" r="1.00" fill="#9ad6e4" opacity="0.35"/><circle cx="1189.9" cy="153.2" r="0.80" fill="#8fd0e0" opacity="0.35"/><circle cx="1190.6" cy="214.2" r="0.50" fill="#4aa6bf" opacity="0.8"/><circle cx="1192.2" cy="154.2" r="0.70" fill="#8fd0e0" opacity="0.8"/><circle cx="1188.3" cy="342.3" r="1.00" fill="#9ad6e4" opacity="0.65"/><circle cx="1181.3" cy="539.3" r="0.50" fill="#8fd0e0" opacity="0.65"/><circle cx="1189.3" cy="526.1" r="1.00" fill="#c4e8f0" opacity="0.65"/>
<circle cx="1186.7" cy="278.9" r="0.60" fill="#a9dcea" opacity="0.8"/><circle cx="1185.3" cy="591.7" r="1.15" fill="#b5e1ec" opacity="0.85"/><circle cx="1183.0" cy="327.3" r="0.60" fill="#a9dcea" opacity="0.5"/><circle cx="1187.2" cy="477.4" r="0.70" fill="#9ad6e4" opacity="0.35"/><circle cx="1179.7" cy="605.9" r="1.15" fill="#b5e1ec" opacity="0.4"/><circle cx="1184.3" cy="678.7" r="1.00" fill="#4aa6bf" opacity="0.35"/><circle cx="1179.8" cy="540.0" r="1.15" fill="#6fbfd4" opacity="0.55"/><circle cx="1187.6" cy="85.9" r="0.70" fill="#8fd0e0" opacity="0.35"/>
<circle cx="1187.6" cy="600.1" r="0.65" fill="#b5e1ec" opacity="0.55"/><circle cx="1187.6" cy="734.9" r="0.70" fill="#9ad6e4" opacity="0.35"/><circle cx="1181.2" cy="698.9" r="0.70" fill="#9ad6e4" opacity="0.8"/><circle cx="1190.9" cy="119.5" r="1.00" fill="#8fd0e0" opacity="0.35"/><circle cx="1178.4" cy="243.2" r="1.00" fill="#c4e8f0" opacity="0.35"/><circle cx="1188.6" cy="671.4" r="0.50" fill="#6fbfd4" opacity="0.5"/><circle cx="1188.1" cy="554.5" r="0.75" fill="#58b0c8" opacity="0.85"/><circle cx="1189.4" cy="620.3" r="0.85" fill="#b5e1ec" opacity="0.85"/>
<circle cx="1184.6" cy="306.4" r="0.80" fill="#4aa6bf" opacity="0.35"/><circle cx="1184.9" cy="543.4" r="0.85" fill="#a4d9e6" opacity="0.55"/><circle cx="1187.0" cy="831.8" r="1.00" fill="#8fd0e0" opacity="0.5"/><circle cx="1183.8" cy="657.9" r="0.75" fill="#6fbfd4" opacity="0.4"/><circle cx="1188.6" cy="630.1" r="0.85" fill="#b5e1ec" opacity="0.85"/><circle cx="1177.1" cy="576.1" r="0.75" fill="#a4d9e6" opacity="0.55"/><circle cx="1185.8" cy="148.2" r="0.80" fill="#c4e8f0" opacity="0.8"/><circle cx="1180.1" cy="241.2" r="0.50" fill="#a9dcea" opacity="0.35"/>
<circle cx="1176.8" cy="322.1" r="0.80" fill="#9ad6e4" opacity="0.35"/><circle cx="1190.1" cy="709.2" r="1.00" fill="#8fd0e0" opacity="0.5"/><circle cx="1194.0" cy="539.9" r="0.50" fill="#a9dcea" opacity="0.35"/><circle cx="1179.3" cy="358.9" r="0.50" fill="#a9dcea" opacity="0.5"/><circle cx="1180.9" cy="625.6" r="0.65" fill="#8ccfe0" opacity="0.7"/><circle cx="1185.5" cy="613.8" r="0.85" fill="#8ccfe0" opacity="0.55"/><circle cx="1185.4" cy="675.4" r="1.00" fill="#6fbfd4" opacity="0.8"/><circle cx="1193.9" cy="828.3" r="0.50" fill="#6fbfd4" opacity="0.65"/>
<circle cx="1182.9" cy="617.9" r="0.75" fill="#6fbfd4" opacity="0.55"/><circle cx="1182.5" cy="325.6" r="1.00" fill="#a9dcea" opacity="0.65"/><circle cx="1191.3" cy="689.1" r="0.50" fill="#9ad6e4" opacity="0.65"/><circle cx="1182.3" cy="560.0" r="1.15" fill="#a4d9e6" opacity="0.55"/><circle cx="1184.6" cy="241.8" r="0.50" fill="#9ad6e4" opacity="0.65"/><circle cx="1188.0" cy="137.5" r="0.70" fill="#4aa6bf" opacity="0.65"/><circle cx="1193.0" cy="628.6" r="0.75" fill="#b5e1ec" opacity="0.4"/><circle cx="1187.8" cy="759.0" r="0.50" fill="#8fd0e0" opacity="0.35"/>
<circle cx="1193.2" cy="87.9" r="0.80" fill="#c4e8f0" opacity="0.5"/><circle cx="1185.2" cy="64.5" r="0.70" fill="#a9dcea" opacity="0.65"/><circle cx="1183.0" cy="645.8" r="0.95" fill="#6fbfd4" opacity="0.55"/><circle cx="1185.4" cy="653.8" r="0.65" fill="#58b0c8" opacity="0.55"/><circle cx="1187.7" cy="729.0" r="0.60" fill="#6fbfd4" opacity="0.35"/><circle cx="1187.9" cy="682.4" r="0.70" fill="#a9dcea" opacity="0.65"/><circle cx="1184.8" cy="117.8" r="0.80" fill="#8fd0e0" opacity="0.8"/><circle cx="1189.0" cy="611.7" r="0.65" fill="#8ccfe0" opacity="0.55"/>
<circle cx="1186.6" cy="442.8" r="0.80" fill="#9ad6e4" opacity="0.35"/><circle cx="1187.9" cy="621.3" r="0.95" fill="#6fbfd4" opacity="0.85"/><circle cx="1186.8" cy="803.9" r="0.60" fill="#a9dcea" opacity="0.35"/><circle cx="1185.9" cy="257.8" r="0.50" fill="#a9dcea" opacity="0.35"/><circle cx="1187.6" cy="329.4" r="0.50" fill="#9ad6e4" opacity="0.8"/><circle cx="1185.1" cy="590.8" r="0.85" fill="#b5e1ec" opacity="0.85"/><circle cx="1181.8" cy="345.6" r="0.80" fill="#c4e8f0" opacity="0.5"/><circle cx="1192.4" cy="230.8" r="0.80" fill="#a9dcea" opacity="0.5"/>
<circle cx="1185.5" cy="569.4" r="0.65" fill="#8ccfe0" opacity="0.85"/><circle cx="1182.5" cy="594.0" r="1.15" fill="#8ccfe0" opacity="0.85"/><circle cx="1184.9" cy="635.5" r="1.15" fill="#b5e1ec" opacity="0.85"/><circle cx="1182.0" cy="633.2" r="1.15" fill="#a4d9e6" opacity="0.4"/><circle cx="1189.2" cy="541.9" r="1.15" fill="#a4d9e6" opacity="0.7"/><circle cx="1186.4" cy="615.8" r="1.15" fill="#a4d9e6" opacity="0.55"/><circle cx="1188.3" cy="230.4" r="0.80" fill="#a9dcea" opacity="0.35"/><circle cx="1188.9" cy="296.9" r="0.80" fill="#a9dcea" opacity="0.65"/>
<circle cx="1182.6" cy="569.1" r="0.65" fill="#a4d9e6" opacity="0.85"/><circle cx="1190.5" cy="271.8" r="0.60" fill="#4aa6bf" opacity="0.5"/><circle cx="1189.9" cy="679.6" r="1.00" fill="#a9dcea" opacity="0.35"/><circle cx="1188.9" cy="495.3" r="0.70" fill="#6fbfd4" opacity="0.65"/><circle cx="1192.0" cy="725.4" r="0.80" fill="#6fbfd4" opacity="0.65"/><circle cx="1186.2" cy="339.8" r="0.80" fill="#9ad6e4" opacity="0.65"/><circle cx="1185.2" cy="608.1" r="0.95" fill="#58b0c8" opacity="0.85"/><circle cx="1187.4" cy="710.0" r="0.80" fill="#a9dcea" opacity="0.35"/>
<circle cx="1192.1" cy="575.0" r="1.15" fill="#a4d9e6" opacity="0.85"/><circle cx="1187.6" cy="654.4" r="0.65" fill="#b5e1ec" opacity="0.4"/><circle cx="1186.1" cy="121.2" r="0.50" fill="#9ad6e4" opacity="0.5"/><circle cx="1180.6" cy="607.4" r="0.95" fill="#b5e1ec" opacity="0.55"/><circle cx="1183.4" cy="735.8" r="0.50" fill="#a9dcea" opacity="0.65"/><circle cx="1190.4" cy="455.0" r="0.80" fill="#6fbfd4" opacity="0.65"/><circle cx="1183.2" cy="375.3" r="0.80" fill="#4aa6bf" opacity="0.65"/><circle cx="1193.9" cy="283.4" r="0.60" fill="#4aa6bf" opacity="0.65"/>
<circle cx="1183.5" cy="606.5" r="1.15" fill="#8ccfe0" opacity="0.7"/><circle cx="1189.9" cy="68.2" r="0.80" fill="#6fbfd4" opacity="0.5"/><circle cx="1176.6" cy="607.0" r="0.95" fill="#6fbfd4" opacity="0.55"/><circle cx="1188.8" cy="86.1" r="0.50" fill="#8fd0e0" opacity="0.5"/><circle cx="1183.8" cy="728.4" r="1.00" fill="#9ad6e4" opacity="0.5"/><circle cx="1184.5" cy="578.6" r="0.75" fill="#6fbfd4" opacity="0.55"/><circle cx="1188.8" cy="200.9" r="0.70" fill="#9ad6e4" opacity="0.8"/><circle cx="1186.9" cy="587.4" r="0.75" fill="#8ccfe0" opacity="0.55"/>
<circle cx="1186.6" cy="707.2" r="0.70" fill="#9ad6e4" opacity="0.5"/><circle cx="1191.5" cy="287.0" r="1.00" fill="#a9dcea" opacity="0.5"/><circle cx="1184.4" cy="301.4" r="0.50" fill="#a9dcea" opacity="0.8"/><circle cx="1191.9" cy="158.8" r="0.70" fill="#9ad6e4" opacity="0.8"/><circle cx="1182.0" cy="460.0" r="0.80" fill="#8fd0e0" opacity="0.5"/><circle cx="1191.7" cy="110.6" r="0.70" fill="#a9dcea" opacity="0.65"/><circle cx="1191.8" cy="811.9" r="0.50" fill="#a9dcea" opacity="0.65"/><circle cx="1183.9" cy="319.5" r="0.70" fill="#9ad6e4" opacity="0.65"/>
<circle cx="1184.2" cy="278.0" r="1.00" fill="#8fd0e0" opacity="0.5"/><circle cx="1185.3" cy="145.3" r="0.70" fill="#8fd0e0" opacity="0.65"/><circle cx="1185.0" cy="620.6" r="0.65" fill="#58b0c8" opacity="0.7"/><circle cx="1184.4" cy="158.9" r="0.60" fill="#8fd0e0" opacity="0.5"/><circle cx="1188.7" cy="133.8" r="1.00" fill="#6fbfd4" opacity="0.65"/><circle cx="1190.5" cy="797.6" r="1.00" fill="#a9dcea" opacity="0.5"/><circle cx="1187.6" cy="466.8" r="0.50" fill="#c4e8f0" opacity="0.5"/><circle cx="1187.1" cy="589.8" r="0.75" fill="#a4d9e6" opacity="0.4"/>
<circle cx="1190.5" cy="127.5" r="0.60" fill="#a9dcea" opacity="0.5"/><circle cx="1190.3" cy="607.2" r="1.15" fill="#a4d9e6" opacity="0.4"/><circle cx="1187.7" cy="592.1" r="0.75" fill="#8ccfe0" opacity="0.7"/><circle cx="1181.7" cy="790.4" r="0.80" fill="#8fd0e0" opacity="0.35"/><circle cx="1188.7" cy="620.1" r="0.6" fill="#6fbfd4" opacity="0.5"/><circle cx="1189.6" cy="617.1" r="0.6" fill="#6fbfd4" opacity="0.35"/><circle cx="1185.6" cy="603.2" r="0.6" fill="#58b0c8" opacity="0.35"/><circle cx="1184.6" cy="572.1" r="0.8" fill="#8ccfe0" opacity="0.7"/><circle cx="1187.7" cy="595.0" r="0.8" fill="#58b0c8" opacity="0.35"/><circle cx="1191.1" cy="597.4" r="0.8" fill="#b5e1ec" opacity="0.35"/><circle cx="1179.5" cy="622.6" r="0.8" fill="#6fbfd4" opacity="0.5"/><circle cx="1186.3" cy="626.7" r="0.8" fill="#8ccfe0" opacity="0.7"/>
<circle cx="1187.4" cy="566.9" r="0.6" fill="#58b0c8" opacity="0.5"/><circle cx="1180.4" cy="626.2" r="1.0" fill="#a4d9e6" opacity="0.7"/><circle cx="1177.0" cy="648.6" r="0.6" fill="#8ccfe0" opacity="0.5"/><circle cx="1184.2" cy="613.9" r="0.6" fill="#6fbfd4" opacity="0.35"/><circle cx="1178.8" cy="587.0" r="1.0" fill="#8ccfe0" opacity="0.5"/><circle cx="1183.1" cy="599.5" r="0.8" fill="#a4d9e6" opacity="0.5"/><circle cx="1190.7" cy="557.0" r="0.8" fill="#b5e1ec" opacity="0.5"/><circle cx="1188.9" cy="620.8" r="0.6" fill="#a4d9e6" opacity="0.5"/>
<circle cx="1193.4" cy="589.6" r="0.8" fill="#58b0c8" opacity="0.5"/><circle cx="1183.6" cy="589.8" r="0.8" fill="#6fbfd4" opacity="0.5"/><circle cx="1189.3" cy="580.0" r="0.8" fill="#b5e1ec" opacity="0.35"/><circle cx="1187.9" cy="538.2" r="0.6" fill="#a4d9e6" opacity="0.35"/><circle cx="1180.8" cy="605.7" r="0.6" fill="#8ccfe0" opacity="0.35"/><circle cx="1188.0" cy="602.7" r="0.6" fill="#58b0c8" opacity="0.35"/><circle cx="1184.9" cy="554.3" r="0.6" fill="#6fbfd4" opacity="0.5"/><circle cx="1187.9" cy="636.8" r="1.0" fill="#58b0c8" opacity="0.5"/>
<circle cx="1190.3" cy="572.4" r="1.0" fill="#6fbfd4" opacity="0.35"/><circle cx="1184.8" cy="554.5" r="0.6" fill="#8ccfe0" opacity="0.35"/><circle cx="1186.1" cy="507.1" r="1.0" fill="#a4d9e6" opacity="0.7"/><circle cx="1190.9" cy="548.1" r="0.6" fill="#b5e1ec" opacity="0.7"/><circle cx="1182.3" cy="632.3" r="0.8" fill="#58b0c8" opacity="0.35"/><circle cx="1185.7" cy="574.9" r="0.8" fill="#58b0c8" opacity="0.5"/><circle cx="1182.4" cy="648.0" r="1.0" fill="#58b0c8" opacity="0.7"/><circle cx="1190.3" cy="623.4" r="0.6" fill="#58b0c8" opacity="0.5"/>
<circle cx="1187.3" cy="550.0" r="1.0" fill="#8ccfe0" opacity="0.7"/><circle cx="1185.8" cy="552.2" r="0.8" fill="#b5e1ec" opacity="0.35"/><circle cx="1186.0" cy="610.3" r="0.8" fill="#58b0c8" opacity="0.35"/><circle cx="1185.0" cy="491.2" r="0.8" fill="#6fbfd4" opacity="0.35"/><circle cx="1185.0" cy="586.9" r="0.8" fill="#6fbfd4" opacity="0.7"/><circle cx="1185.5" cy="587.3" r="0.8" fill="#6fbfd4" opacity="0.5"/><circle cx="1190.7" cy="617.5" r="0.8" fill="#8ccfe0" opacity="0.7"/><circle cx="1186.8" cy="595.5" r="0.8" fill="#a4d9e6" opacity="0.7"/>
<circle cx="1182.8" cy="639.0" r="0.8" fill="#8ccfe0" opacity="0.7"/><circle cx="1192.4" cy="547.3" r="0.6" fill="#6fbfd4" opacity="0.7"/><circle cx="1189.0" cy="623.2" r="1.0" fill="#6fbfd4" opacity="0.7"/><circle cx="1187.2" cy="541.5" r="0.6" fill="#b5e1ec" opacity="0.5"/><circle cx="1186.6" cy="650.3" r="1.0" fill="#6fbfd4" opacity="0.5"/><circle cx="1182.5" cy="541.1" r="0.8" fill="#6fbfd4" opacity="0.7"/><circle cx="1184.3" cy="542.9" r="0.8" fill="#a4d9e6" opacity="0.5"/><circle cx="1186.7" cy="542.7" r="0.8" fill="#a4d9e6" opacity="0.35"/>
<circle cx="1189.5" cy="523.7" r="0.8" fill="#6fbfd4" opacity="0.5"/><circle cx="1183.7" cy="497.3" r="0.8" fill="#b5e1ec" opacity="0.5"/><circle cx="1188.3" cy="599.1" r="0.6" fill="#a4d9e6" opacity="0.5"/><circle cx="1182.8" cy="549.9" r="0.8" fill="#b5e1ec" opacity="0.5"/><circle cx="1189.0" cy="630.5" r="0.6" fill="#8ccfe0" opacity="0.7"/><circle cx="1188.9" cy="626.4" r="1.0" fill="#a4d9e6" opacity="0.5"/><circle cx="1179.2" cy="589.4" r="0.6" fill="#b5e1ec" opacity="0.35"/><circle cx="1194.2" cy="614.4" r="1.0" fill="#58b0c8" opacity="0.7"/>
<circle cx="1184.1" cy="508.4" r="1.0" fill="#8ccfe0" opacity="0.5"/><circle cx="1191.1" cy="555.1" r="1.0" fill="#a4d9e6" opacity="0.5"/><circle cx="1187.2" cy="554.8" r="0.6" fill="#6fbfd4" opacity="0.7"/><circle cx="1182.7" cy="611.4" r="0.8" fill="#a4d9e6" opacity="0.35"/><circle cx="1182.4" cy="525.2" r="0.6" fill="#b5e1ec" opacity="0.35"/><circle cx="1178.1" cy="630.6" r="1.0" fill="#6fbfd4" opacity="0.7"/><circle cx="1187.4" cy="561.4" r="1.0" fill="#6fbfd4" opacity="0.35"/><circle cx="1192.0" cy="526.7" r="0.6" fill="#b5e1ec" opacity="0.35"/>
<circle cx="1191.0" cy="638.2" r="1.0" fill="#58b0c8" opacity="0.5"/><circle cx="1182.3" cy="511.7" r="1.0" fill="#58b0c8" opacity="0.7"/><circle cx="1184.5" cy="637.9" r="1.0" fill="#b5e1ec" opacity="0.5"/><circle cx="1179.7" cy="590.3" r="0.6" fill="#a4d9e6" opacity="0.35"/><circle cx="1178.8" cy="549.4" r="0.6" fill="#a4d9e6" opacity="0.35"/><circle cx="1182.7" cy="605.4" r="0.6" fill="#8ccfe0" opacity="0.5"/><circle cx="1179.8" cy="526.0" r="0.8" fill="#a4d9e6" opacity="0.7"/><circle cx="1187.7" cy="499.8" r="0.8" fill="#b5e1ec" opacity="0.7"/>
<circle cx="1190.6" cy="588.3" r="0.8" fill="#8ccfe0" opacity="0.5"/><circle cx="1187.0" cy="527.0" r="1.0" fill="#a4d9e6" opacity="0.5"/><circle cx="1186.6" cy="577.6" r="0.6" fill="#a4d9e6" opacity="0.7"/><circle cx="1190.8" cy="578.6" r="0.6" fill="#6fbfd4" opacity="0.35"/><circle cx="1182.0" cy="494.7" r="0.6" fill="#a4d9e6" opacity="0.7"/><circle cx="1185.9" cy="504.8" r="0.6" fill="#58b0c8" opacity="0.5"/><circle cx="1183.7" cy="574.5" r="0.6" fill="#a4d9e6" opacity="0.7"/><circle cx="1184.6" cy="544.4" r="0.8" fill="#8ccfe0" opacity="0.7"/>
<circle cx="1188.8" cy="568.8" r="1.0" fill="#b5e1ec" opacity="0.5"/><circle cx="1189.1" cy="521.5" r="1.0" fill="#6fbfd4" opacity="0.35"/><circle cx="1185.5" cy="556.5" r="1.0" fill="#b5e1ec" opacity="0.35"/><circle cx="1188.4" cy="562.4" r="0.6" fill="#6fbfd4" opacity="0.5"/><circle cx="1186.3" cy="523.2" r="0.8" fill="#8ccfe0" opacity="0.7"/><circle cx="1178.8" cy="609.2" r="1.0" fill="#8ccfe0" opacity="0.35"/><circle cx="1179.7" cy="548.4" r="1.0" fill="#b5e1ec" opacity="0.5"/><circle cx="1189.6" cy="582.0" r="1.0" fill="#6fbfd4" opacity="0.7"/>
<circle cx="1189.2" cy="594.3" r="0.6" fill="#6fbfd4" opacity="0.7"/><circle cx="1185.8" cy="548.6" r="0.6" fill="#58b0c8" opacity="0.35"/><circle cx="1188.3" cy="546.6" r="0.8" fill="#58b0c8" opacity="0.35"/><circle cx="1183.2" cy="640.4" r="0.8" fill="#58b0c8" opacity="0.35"/><circle cx="1183.2" cy="630.2" r="0.8" fill="#6fbfd4" opacity="0.5"/><circle cx="1185.5" cy="531.6" r="0.6" fill="#6fbfd4" opacity="0.7"/><circle cx="1187.8" cy="535.9" r="1.0" fill="#58b0c8" opacity="0.35"/><circle cx="1181.8" cy="624.0" r="0.8" fill="#6fbfd4" opacity="0.35"/>
<circle cx="1187.1" cy="492.1" r="0.8" fill="#8ccfe0" opacity="0.35"/><circle cx="1190.9" cy="624.2" r="0.6" fill="#58b0c8" opacity="0.35"/><circle cx="1178.5" cy="523.7" r="0.8" fill="#a4d9e6" opacity="0.7"/><circle cx="1182.3" cy="582.3" r="0.8" fill="#58b0c8" opacity="0.7"/><circle cx="1188.6" cy="639.2" r="0.8" fill="#58b0c8" opacity="0.35"/><circle cx="1186.1" cy="506.2" r="0.6" fill="#6fbfd4" opacity="0.5"/><circle cx="1181.4" cy="565.3" r="1.0" fill="#58b0c8" opacity="0.35"/><circle cx="1183.2" cy="584.1" r="1.0" fill="#8ccfe0" opacity="0.5"/>
<circle cx="1181.6" cy="517.9" r="0.6" fill="#58b0c8" opacity="0.7"/><circle cx="1179.8" cy="635.3" r="1.0" fill="#6fbfd4" opacity="0.35"/><circle cx="1184.9" cy="640.0" r="0.6" fill="#6fbfd4" opacity="0.35"/><circle cx="1185.2" cy="554.7" r="1.0" fill="#6fbfd4" opacity="0.7"/><circle cx="1184.3" cy="611.9" r="0.6" fill="#8ccfe0" opacity="0.35"/><circle cx="1183.7" cy="567.0" r="0.8" fill="#6fbfd4" opacity="0.35"/><circle cx="1190.7" cy="617.9" r="1.0" fill="#58b0c8" opacity="0.5"/><circle cx="1187.3" cy="496.8" r="0.8" fill="#8ccfe0" opacity="0.5"/>
<circle cx="1194.1" cy="614.9" r="1.0" fill="#8ccfe0" opacity="0.35"/><circle cx="1192.2" cy="513.6" r="1.0" fill="#6fbfd4" opacity="0.7"/><circle cx="1191.3" cy="574.5" r="0.8" fill="#8ccfe0" opacity="0.35"/><circle cx="1190.1" cy="630.5" r="1.0" fill="#8ccfe0" opacity="0.7"/><circle cx="1180.9" cy="582.7" r="1.0" fill="#8ccfe0" opacity="0.7"/><circle cx="1181.6" cy="498.9" r="1.0" fill="#b5e1ec" opacity="0.5"/><circle cx="1183.7" cy="565.4" r="0.6" fill="#8ccfe0" opacity="0.35"/><circle cx="1181.7" cy="626.9" r="0.8" fill="#6fbfd4" opacity="0.35"/>

<circle cx="1162.3" cy="710.4" r="1.2" fill="#f5ee7a" opacity="0.45"/><circle cx="1169.5" cy="741.8" r="0.7" fill="#f5ee7a" opacity="0.6"/><circle cx="1158.0" cy="740.9" r="0.7" fill="#f5ee7a" opacity="0.6"/><circle cx="1164.6" cy="790.3" r="0.7" fill="#f5ee7a" opacity="0.3"/><circle cx="1161.7" cy="758.8" r="0.9" fill="#f5ee7a" opacity="0.3"/><circle cx="1158.8" cy="746.1" r="0.9" fill="#f5ee7a" opacity="0.3"/><circle cx="1165.6" cy="745.4" r="0.7" fill="#f5ee7a" opacity="0.6"/><circle cx="1162.1" cy="717.2" r="1.2" fill="#f5ee7a" opacity="0.45"/>
<circle cx="1160.1" cy="751.2" r="1.2" fill="#f5ee7a" opacity="0.6"/><circle cx="1158.7" cy="705.6" r="1.2" fill="#f5ee7a" opacity="0.3"/><circle cx="1170.5" cy="723.2" r="1.2" fill="#f5ee7a" opacity="0.6"/><circle cx="1169.9" cy="751.4" r="0.9" fill="#f5ee7a" opacity="0.3"/><circle cx="1168.1" cy="792.6" r="0.9" fill="#f5ee7a" opacity="0.45"/><circle cx="1163.2" cy="728.8" r="0.9" fill="#f5ee7a" opacity="0.45"/><circle cx="1167.9" cy="748.8" r="0.7" fill="#f5ee7a" opacity="0.45"/><circle cx="1169.0" cy="790.5" r="1.2" fill="#f5ee7a" opacity="0.45"/>
<circle cx="1164.6" cy="703.2" r="0.9" fill="#f5ee7a" opacity="0.45"/><circle cx="1164.2" cy="741.6" r="1.2" fill="#f5ee7a" opacity="0.3"/><circle cx="1161.3" cy="768.2" r="0.9" fill="#f5ee7a" opacity="0.45"/><circle cx="1170.9" cy="745.4" r="0.7" fill="#f5ee7a" opacity="0.45"/><circle cx="1165.4" cy="718.9" r="0.7" fill="#f5ee7a" opacity="0.3"/><circle cx="1165.6" cy="728.0" r="1.2" fill="#f5ee7a" opacity="0.45"/><circle cx="1160.7" cy="765.2" r="0.9" fill="#f5ee7a" opacity="0.3"/><circle cx="1164.3" cy="752.1" r="1.2" fill="#f5ee7a" opacity="0.6"/>
<circle cx="1164.3" cy="794.1" r="1.2" fill="#f5ee7a" opacity="0.6"/><circle cx="1164.9" cy="714.3" r="1.2" fill="#f5ee7a" opacity="0.3"/><circle cx="1165.3" cy="781.2" r="0.7" fill="#f5ee7a" opacity="0.6"/><circle cx="1163.6" cy="779.8" r="0.7" fill="#f5ee7a" opacity="0.6"/><circle cx="1158.4" cy="757.7" r="1.2" fill="#f5ee7a" opacity="0.6"/><circle cx="1163.1" cy="766.4" r="0.9" fill="#f5ee7a" opacity="0.45"/><circle cx="1165.7" cy="742.6" r="0.7" fill="#f5ee7a" opacity="0.6"/><circle cx="1163.4" cy="801.7" r="1.2" fill="#f5ee7a" opacity="0.6"/>
<circle cx="1159.1" cy="727.6" r="1.2" fill="#f5ee7a" opacity="0.3"/><circle cx="1162.8" cy="727.4" r="0.7" fill="#f5ee7a" opacity="0.6"/><circle cx="1164.6" cy="746.5" r="0.9" fill="#f5ee7a" opacity="0.3"/><circle cx="1165.2" cy="753.4" r="0.9" fill="#f5ee7a" opacity="0.6"/><circle cx="1170.0" cy="738.6" r="0.9" fill="#f5ee7a" opacity="0.45"/><circle cx="1164.8" cy="754.1" r="0.9" fill="#f5ee7a" opacity="0.45"/><circle cx="1158.9" cy="763.2" r="0.9" fill="#f5ee7a" opacity="0.6"/><circle cx="1169.7" cy="714.7" r="0.9" fill="#f5ee7a" opacity="0.45"/>
<circle cx="1162.8" cy="758.4" r="0.9" fill="#f5ee7a" opacity="0.3"/><circle cx="1166.1" cy="754.3" r="0.9" fill="#f5ee7a" opacity="0.6"/><circle cx="1161.1" cy="771.5" r="0.7" fill="#f5ee7a" opacity="0.3"/><circle cx="1165.9" cy="737.7" r="1.2" fill="#f5ee7a" opacity="0.6"/><circle cx="1159.0" cy="728.2" r="0.7" fill="#f5ee7a" opacity="0.3"/><circle cx="1165.1" cy="752.8" r="0.7" fill="#f5ee7a" opacity="0.45"/><circle cx="1164.0" cy="754.5" r="1.2" fill="#f5ee7a" opacity="0.3"/><circle cx="1167.1" cy="752.0" r="0.9" fill="#f5ee7a" opacity="0.3"/>
<circle cx="1167.4" cy="736.9" r="1.2" fill="#f5ee7a" opacity="0.6"/><circle cx="1165.7" cy="763.9" r="1.2" fill="#f5ee7a" opacity="0.45"/><circle cx="1162.3" cy="754.6" r="1.2" fill="#f5ee7a" opacity="0.3"/><circle cx="1170.1" cy="710.4" r="0.7" fill="#f5ee7a" opacity="0.45"/><circle cx="1164.6" cy="694.1" r="0.7" fill="#f5ee7a" opacity="0.3"/><circle cx="1159.0" cy="708.1" r="0.9" fill="#f5ee7a" opacity="0.45"/><circle cx="1164.5" cy="791.4" r="0.9" fill="#f5ee7a" opacity="0.3"/><circle cx="1169.6" cy="755.1" r="0.9" fill="#f5ee7a" opacity="0.3"/>
<circle cx="1163.1" cy="769.4" r="0.9" fill="#f5ee7a" opacity="0.3"/><circle cx="1167.9" cy="762.8" r="0.9" fill="#f5ee7a" opacity="0.3"/><circle cx="1160.2" cy="759.3" r="0.7" fill="#f5ee7a" opacity="0.3"/><circle cx="1162.7" cy="748.5" r="0.7" fill="#f5ee7a" opacity="0.3"/><circle cx="1163.6" cy="768.7" r="0.7" fill="#f5ee7a" opacity="0.45"/><circle cx="1162.5" cy="742.1" r="0.7" fill="#f5ee7a" opacity="0.45"/><circle cx="1163.8" cy="716.7" r="0.9" fill="#f5ee7a" opacity="0.3"/><circle cx="1168.0" cy="753.6" r="0.7" fill="#f5ee7a" opacity="0.3"/>
<circle cx="1159.3" cy="741.5" r="0.9" fill="#f5ee7a" opacity="0.3"/><circle cx="1167.7" cy="759.9" r="0.9" fill="#f5ee7a" opacity="0.45"/><circle cx="1164.5" cy="733.6" r="0.9" fill="#f5ee7a" opacity="0.6"/><circle cx="1162.9" cy="758.6" r="1.2" fill="#f5ee7a" opacity="0.45"/><circle cx="1169.7" cy="759.2" r="0.9" fill="#f5ee7a" opacity="0.45"/><circle cx="1163.8" cy="771.2" r="1.2" fill="#f5ee7a" opacity="0.6"/>
<rect x="1174" y="60" width="22" height="780" fill="#dff2f6" opacity="0.12" filter="url(#soft)"/>
</g>
</svg>
</div>
</body>
</html>
